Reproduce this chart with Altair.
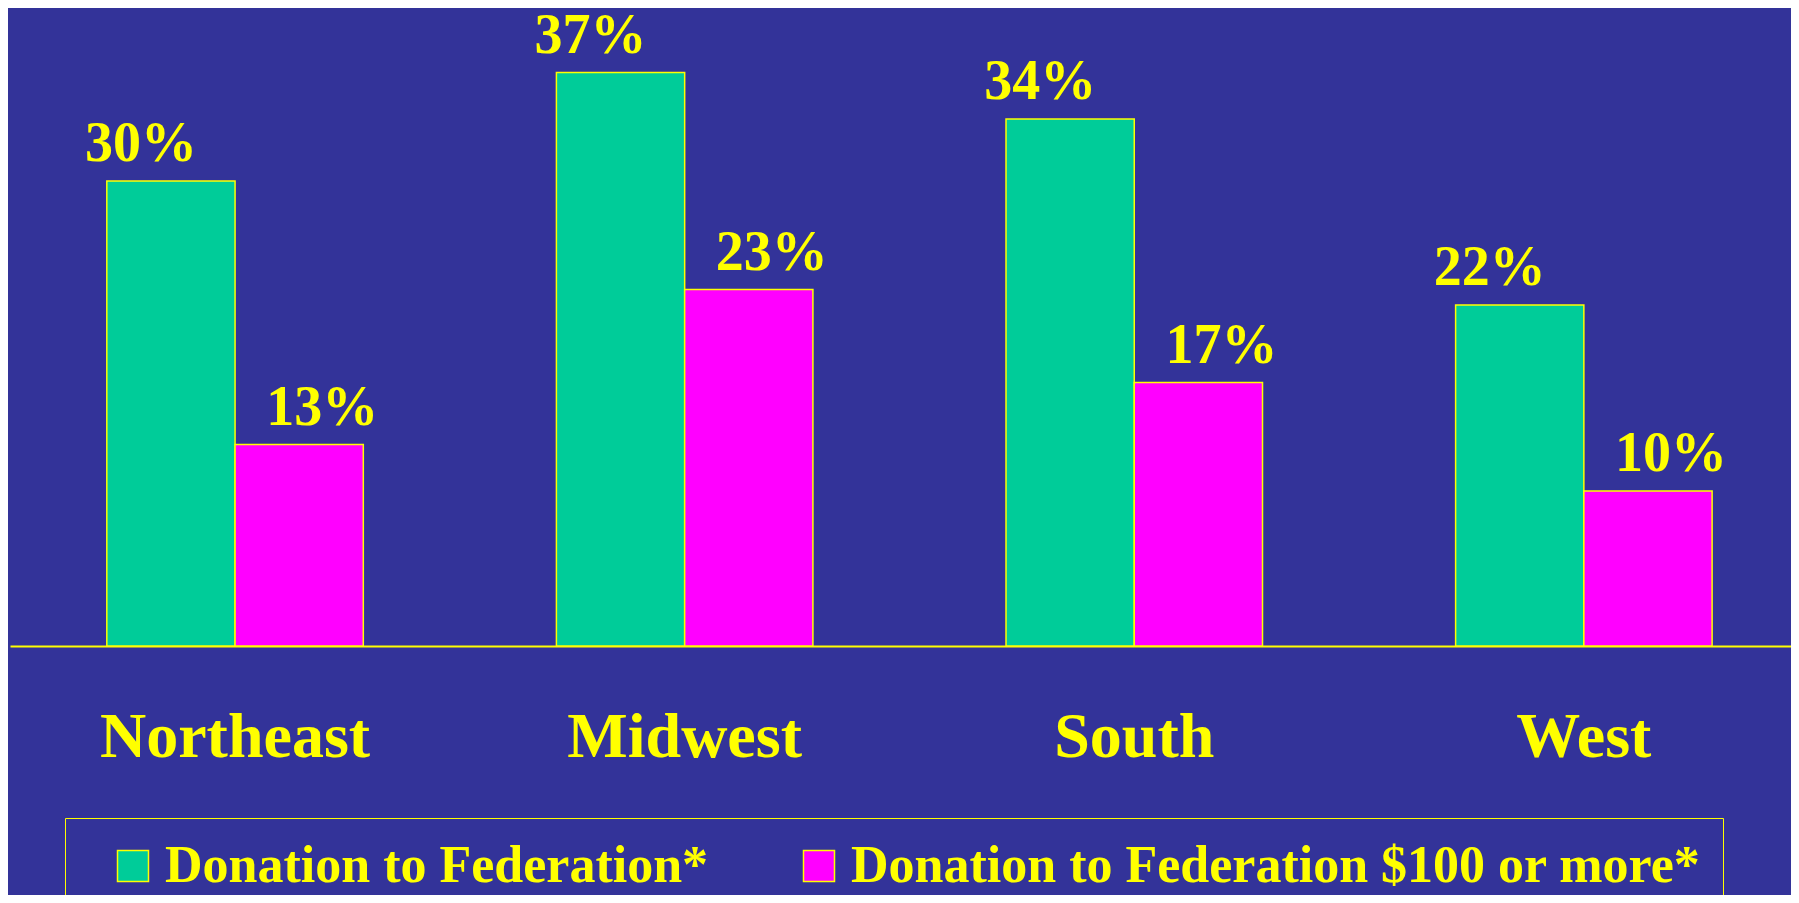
import altair as alt
import pandas as pd

regions = ["Northeast", "Midwest", "South", "West"]
series = ["Donation to Federation*", "Donation to Federation $100 or more*"]
donation = [30, 37, 34, 22]
donation_100 = [13, 23, 17, 10]
colors = ["#00CC99", "#FF00FF"]

rows = []
for i, r in enumerate(regions):
    rows.append({"region": r, "series": series[0], "value": donation[i], "label": f"{donation[i]}%"})
    rows.append({"region": r, "series": series[1], "value": donation_100[i], "label": f"{donation_100[i]}%"})
df = pd.DataFrame(rows)

FONT = "Liberation Serif"
YELLOW = "#FFFF00"
BG = "#333399"

x = alt.X(
    "region:N", sort=regions, title=None,
    scale=alt.Scale(paddingInner=0.4295, paddingOuter=0.1954, align=0.551),
    axis=alt.Axis(labelAngle=0, labelFont=FONT, labelFontSize=64, labelFontWeight="bold",
                  labelColor=YELLOW, labelBaseline="alphabetic", labelPadding=110,
                  labelLimit=0, ticks=False, tickSize=0, domainColor=YELLOW,
                  domainWidth=2, grid=False),
)
xo = alt.XOffset("series:N", sort=series)
y = alt.Y("value:Q", scale=alt.Scale(domain=[0, 40]), axis=None)

bars = alt.Chart(df).mark_bar(stroke=YELLOW, strokeWidth=1.5, opacity=1).encode(
    x=x, xOffset=xo, y=y,
    color=alt.Color(
        "series:N", sort=series, scale=alt.Scale(domain=series, range=colors),
        legend=alt.Legend(title=None, orient="none", legendX=55, legendY=792,
                          direction="horizontal", symbolType="square", symbolSize=961,
                          symbolOffset=20,
                          symbolStrokeColor=YELLOW, symbolStrokeWidth=1.5, symbolOpacity=1,
                          labelFont=FONT, labelFontSize=52, labelFontWeight="bold",
                          labelColor=YELLOW, labelLimit=0, labelOffset=6,
                          columnPadding=64, padding=22, strokeColor=YELLOW),
    ),
)

text_style = dict(baseline="alphabetic", align="center", font=FONT, fontSize=56,
                  fontWeight="bold", color=YELLOW, dy=-20)

text_green = alt.Chart(df).transform_filter(alt.datum.series == series[0]).mark_text(
    dx=-30, **text_style).encode(x=x, xOffset=xo, y=y, text="label:N")
text_pink = alt.Chart(df).transform_filter(alt.datum.series == series[1]).mark_text(
    dx=23, **text_style).encode(x=x, xOffset=xo, y=y, text="label:N")

chart = alt.layer(bars, text_green, text_pink).properties(
    width=1781, height=620,
    padding={"left": 2, "top": 18, "right": 0, "bottom": 249},
    autosize=alt.AutoSizeParams(type="none"),
    background=BG,
).configure_view(stroke=None)

chart.save("out.html", embed_options={"renderer": "svg", "actions": False})
